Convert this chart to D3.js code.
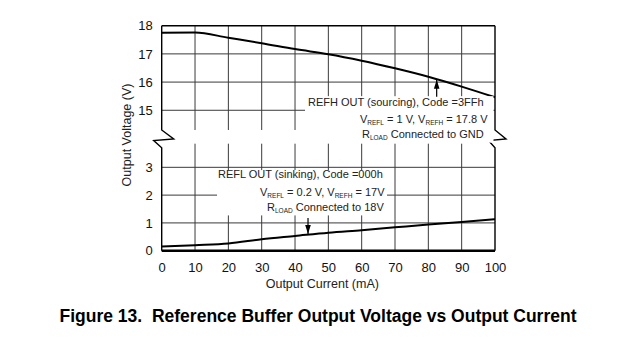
<!DOCTYPE html>
<html><head><meta charset="utf-8">
<script src="https://cdn.jsdelivr.net/npm/d3@7/dist/d3.min.js"></script>
<style>
html,body{margin:0;padding:0;background:#fff;}
svg{display:block;font-family:"Liberation Sans",Arial,sans-serif;}
</style></head>
<body>
<svg id="c" width="620" height="345"></svg>
<script>
// ---- data ----
const current = [0, 10, 20, 30, 40, 50, 60, 70, 80, 90, 100];            // mA
const refhOut = [17.75, 17.76, 17.57, 17.38, 17.17, 16.99, 16.76, 16.49, 16.19, 15.84, 15.46]; // V
const reflOut = [0.15, 0.20, 0.26, 0.41, 0.53, 0.65, 0.74, 0.84, 0.94, 1.03, 1.13];       // V
const xTicks = [0, 10, 20, 30, 40, 50, 60, 70, 80, 90, 100];
const yTicksTop = [15, 16, 17, 18];
const yTicksBottom = [0, 1, 2, 3];
const topDomain = [14.3, 18];
const bottomDomain = [0, 3.85];

const svg = d3.select("#c");
const x = d3.scaleLinear().domain([0, 100]).range([161.7, 495]);
const yT = d3.scaleLinear().domain(topDomain).range([130, 25.7]);
const yB = d3.scaleLinear().domain(bottomDomain).range([250.7, 143.7]);
const X0 = x(0), X1 = x(100);

const gridCol = "#3a3a3a";
// vertical grid
[[yT, topDomain], [yB, bottomDomain]].forEach(([ys, dom]) => {
  svg.append("g").selectAll("line").data(xTicks.slice(1, -1)).join("line")
    .attr("x1", d => x(d)).attr("x2", d => x(d))
    .attr("y1", ys(dom[0])).attr("y2", ys(dom[1]))
    .attr("stroke", gridCol).attr("stroke-width", 1);
});
// horizontal grid
svg.append("g").selectAll("line").data(yTicksTop.slice(0, -1)).join("line")
  .attr("x1", X0).attr("x2", X1).attr("y1", d => yT(d)).attr("y2", d => yT(d))
  .attr("stroke", gridCol).attr("stroke-width", 1);
svg.append("g").selectAll("line").data(yTicksBottom.slice(1)).join("line")
  .attr("x1", X0).attr("x2", X1).attr("y1", d => yB(d)).attr("y2", d => yB(d))
  .attr("stroke", gridCol).attr("stroke-width", 1);

// frame with break zigzags
const yBrk0 = yT(topDomain[0]), yBrk1 = yB(bottomDomain[1]) + 4;
function sidePath(x0, out, inn) {
  return `M${x0},${yT(18)} L${x0},${yBrk0} L${x0 + out},${yBrk0 + 9} L${x0 - inn},${yBrk0 + 10.5} L${x0},${yBrk1} L${x0},${yB(0)}`;
}
svg.append("path").attr("d", sidePath(X0, 12, 8)).attr("fill", "none").attr("stroke", "#000").attr("stroke-width", 1.4);
svg.append("path").attr("d", sidePath(X1, 11, 6.5)).attr("fill", "none").attr("stroke", "#000").attr("stroke-width", 1.4);
svg.append("line").attr("x1", X0).attr("x2", X1).attr("y1", yT(18)).attr("y2", yT(18)).attr("stroke", "#000").attr("stroke-width", 1.4);
svg.append("line").attr("x1", X0).attr("x2", X1).attr("y1", yB(0)).attr("y2", yB(0)).attr("stroke", "#000").attr("stroke-width", 2.6);

// curves
const lineT = d3.line().x((d, i) => x(current[i])).y(d => yT(d)).curve(d3.curveMonotoneX);
const lineB = d3.line().x((d, i) => x(current[i])).y(d => yB(d)).curve(d3.curveMonotoneX);
svg.append("path").attr("d", lineT(refhOut)).attr("fill", "none").attr("stroke", "#000").attr("stroke-width", 2);
svg.append("path").attr("d", lineB(reflOut)).attr("fill", "none").attr("stroke", "#000").attr("stroke-width", 2);

// annotation backgrounds
svg.append("rect").attr("x", x(43)).attr("y", yT(15.5)).attr("width", X1 - 1.5 - x(43)).attr("height", yT(13.85) - yT(15.5)).attr("fill", "#fff");
svg.append("rect").attr("x", x(16.6)).attr("y", yB(2.9)).attr("width", x(67.6) - x(16.6)).attr("height", yB(1.27) - yB(2.9)).attr("fill", "#fff");

// annotation text
const af = 11;
function label(xp, yp, parts) {
  const t = svg.append("text").attr("x", xp).attr("y", yp).attr("font-size", af).attr("fill", "#222").style("white-space", "pre");
  let pending = 0;
  parts.forEach(p => {
    if (typeof p === "string") {
      const s = t.append("tspan").text(p);
      if (pending) { s.attr("dy", pending); pending = 0; }
    } else {
      t.append("tspan").attr("font-size", 6.5).attr("dy", 2.5).text(p.sub);
      pending = -2.5;
    }
  });
}
label(x(43.9), yT(15.15), ["REFH OUT (sourcing), Code =3FFh"]);
label(x(59.5), yT(14.55), ["V", {sub: "REFL"}, " = 1 V, V", {sub: "REFH"}, " = 17.8 V"]);
label(x(60.1), yT(14.02), ["R", {sub: "LOAD"}, " Connected to GND"]);
label(x(16.9), yB(2.62), ["REFL OUT (sinking), Code =000h"]);
label(x(29.5), yB(1.97), ["V", {sub: "REFL"}, " = 0.2 V, V", {sub: "REFH"}, " = 17V"]);
label(x(31.6), yB(1.43), ["R", {sub: "LOAD"}, " Connected to 18V"]);

// arrows
function arrow(xp, y1, y2) {
  svg.append("line").attr("x1", xp).attr("x2", xp).attr("y1", y1).attr("y2", y2).attr("stroke", "#000").attr("stroke-width", 1.2);
  const dir = Math.sign(y2 - y1);
  svg.append("path").attr("d", `M${xp},${y2} L${xp - 2.8},${y2 - dir * 9} L${xp + 2.8},${y2 - dir * 9} Z`).attr("fill", "#000");
}
arrow(x(82.5), yT(15.48), yT(16.08));
arrow(x(43.9), yB(1.18), yB(0.6));

// axes
const gx = svg.append("g").attr("transform", `translate(0,${yB(0)})`)
  .call(d3.axisBottom(x).tickValues(xTicks).tickSize(0).tickPadding(12).tickFormat(d3.format("d")));
const gyT = svg.append("g").attr("transform", `translate(${X0},0)`)
  .call(d3.axisLeft(yT).tickValues(yTicksTop).tickSize(0).tickPadding(9).tickFormat(d3.format("d")));
const gyB = svg.append("g").attr("transform", `translate(${X0},0)`)
  .call(d3.axisLeft(yB).tickValues(yTicksBottom).tickSize(0).tickPadding(9).tickFormat(d3.format("d")));
[gx, gyT, gyB].forEach(g => {
  g.select(".domain").remove();
  g.selectAll("text").attr("font-size", 13).attr("fill", "#111").attr("font-family", "Liberation Sans, Arial, sans-serif");
});

// axis titles
svg.append("text").attr("x", (X0 + X1) / 2 - 6).attr("y", 288).attr("text-anchor", "middle")
  .attr("font-size", 12.5).attr("fill", "#222").text("Output Current (mA)");
svg.append("text").attr("transform", "translate(131,135) rotate(-90)").attr("text-anchor", "middle")
  .attr("font-size", 12.5).attr("fill", "#222").text("Output Voltage (V)");

// figure title
svg.append("text").attr("x", 318).attr("y", 322).attr("text-anchor", "middle")
  .attr("font-size", 17.5).attr("font-weight", "bold").attr("fill", "#000").style("white-space", "pre")
  .text("Figure 13.  Reference Buffer Output Voltage vs Output Current");
</script>
</body></html>
